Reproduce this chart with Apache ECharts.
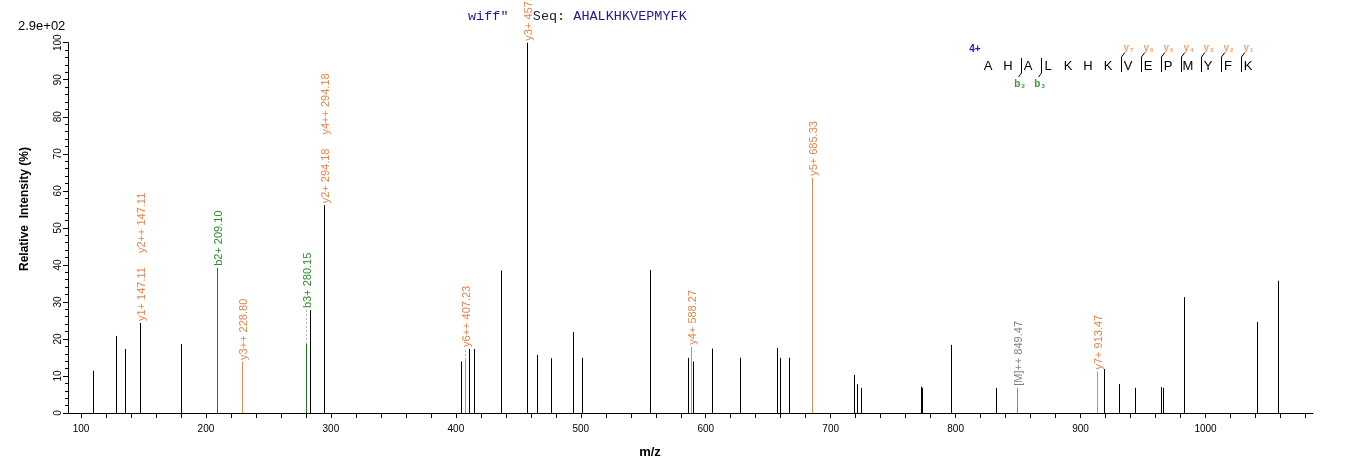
<!DOCTYPE html>
<html>
<head>
<meta charset="utf-8">
<script src="https://cdn.jsdelivr.net/npm/echarts@6/dist/echarts.min.js"></script>
<style>
html, body { margin: 0; padding: 0; background: #fff; }
#main { width: 1362px; height: 473px; }
</style>
</head>
<body>
<div id="main"></div>
<script>
// peaks: m/z and relative intensity (%)
const peakMz = [109.8, 128.3, 135.5, 147.11, 180.3, 209.10, 228.80, 280.15, 282.9, 294.18,
  404.4, 407.23, 410.3, 414.8, 436.4, 457.27, 465.2, 476.4, 493.8, 501.2,
  555.7, 586.1, 588.27, 589.6, 605.3, 627.7, 657.3, 659.7, 666.9, 685.33,
  719.0, 721.4, 724.5, 772.6, 773.4, 796.6, 832.6, 849.47, 913.47, 919.0,
  931.0, 943.8, 964.7, 966.2, 983.1, 1041.5, 1058.3];
const peakInt = [11.4, 20.8, 17.3, 24.3, 18.6, 39.2, 13.8, 18.6, 27.8, 56.1,
  13.9, 14.3, 17.3, 17.3, 38.5, 100, 15.7, 14.8, 21.9, 14.9,
  38.6, 14.9, 17.9, 13.9, 17.4, 14.9, 17.6, 14.9, 14.9, 63.5,
  10.3, 7.8, 6.8, 7.1, 6.8, 18.4, 6.8, 6.8, 11.2, 11.9,
  7.8, 6.8, 7.0, 6.8, 31.3, 24.6, 35.7];

// annotated fragment ions
const annMz = [147.11, 147.11, 209.10, 228.80, 280.15, 294.18, 294.18, 407.23, 457.27, 588.27, 685.33, 849.47, 913.47];
const annText = ['y1+ 147.11', 'y2++ 147.11', 'b2+ 209.10', 'y3++ 228.80', 'b3+ 280.15', 'y2+ 294.18', 'y4++ 294.18',
  'y6++ 407.23', 'y3+ 457.27', 'y4+ 588.27', 'y5+ 685.33', '[M]++ 849.47', 'y7+ 913.47'];
const annIon = ['y', 'y', 'b', 'y', 'b', 'y', 'y', 'y', 'y', 'y', 'y', 'M', 'y'];
// labelled peaks whose stick is still drawn black
const plainMz = [147.11, 294.18, 457.27];

const xLabels = [100, 200, 300, 400, 500, 600, 700, 800, 900, 1000];
const xTicks = [100, 120, 140, 160, 180, 200, 220, 240, 260, 280, 300, 320, 340, 360, 380, 400, 420, 440, 460, 480,
  500, 520, 540, 560, 580, 600, 620, 640, 660, 680, 700, 720, 740, 760, 780, 800, 820, 840, 860, 880,
  900, 920, 940, 960, 980, 1000, 1020, 1040, 1060, 1080];

const sequence = 'AHALKHKVEPMYFK';
const charge = '4+';
const bIons = [2, 3];
const yIons = [7, 6, 5, 4, 3, 2, 1];

const textColor = { b: '#2e8b2e', y: '#e4844a', M: '#808080' };
const lineColor = { b: '#1f7a1f', y: '#e08a55', M: '#8a8a8a' };

const labelFont = '11px Arial';
const measure = document.createElement('canvas').getContext('2d');
measure.font = labelFont;

function stickColor(m) {
  const k = annMz.indexOf(m);
  if (k < 0 || plainMz.indexOf(m) >= 0) return '#000';
  return lineColor[annIon[k]];
}

// one label group per annotated peak, lifted above close neighbours
const groupMz = annMz.filter((m, i) => annMz.indexOf(m) === i);
const groupData = groupMz.map(m => {
  let base = 0;
  peakMz.forEach((p, i) => { if (Math.abs(p - m) <= 4) base = Math.max(base, peakInt[i]); });
  return [m, base];
});

const chart = echarts.init(document.getElementById('main'));

const graphics = [
  { type: 'text', x: 18, y: 26, style: { text: '2.9e+02', font: '13px Arial', fill: '#000', verticalAlign: 'middle' } },
  { type: 'text', x: 25, y: 209, rotation: Math.PI / 2,
    style: { text: 'Relative  Intensity (%)', font: 'bold 12px Arial', fill: '#000', align: 'center', verticalAlign: 'middle' } },
  { type: 'text', x: 650, y: 452, style: { text: 'm/z', font: 'bold 13px Arial', fill: '#000', align: 'center', verticalAlign: 'middle' } },
  { type: 'text', x: 468, y: 16,
    style: {
      text: '{a|wiff"\u00a0\u00a0\u00a0}{b|Seq:\u00a0}{a|' + sequence + '}',
      verticalAlign: 'middle',
      rich: {
        a: { font: '13.5px "Liberation Mono"', fill: '#1c1c8c' },
        b: { font: '13.5px "Liberation Mono"', fill: '#222' }
      }
    } },
  { type: 'text', x: 975, y: 49, style: { text: charge, font: 'bold 10px Arial', fill: '#2020c0', align: 'center', verticalAlign: 'middle' } }
];

const seqX0 = 988, seqStep = 20, seqY = 66;
sequence.split('').forEach((c, i) => {
  graphics.push({ type: 'text', x: seqX0 + i * seqStep, y: seqY,
    style: { text: c, font: '13px Arial', fill: '#000', align: 'center', verticalAlign: 'middle' } });
});
function ionTag(letter, n, color) {
  return {
    text: '{a|' + letter + '}{s|' + n + '}',
    align: 'center',
    verticalAlign: 'middle',
    rich: {
      a: { font: 'bold 10px Arial', fill: color },
      s: { font: 'bold 6px Arial', fill: color, padding: [4, 0, 0, 1] }
    }
  };
}
bIons.forEach(n => {
  const x = seqX0 + n * seqStep - 6.5;
  graphics.push({ type: 'polyline', shape: { points: [[x, 58], [x, 73], [x - 3, 77]] }, style: { stroke: '#000', lineWidth: 1, fill: null } });
  graphics.push({ type: 'text', x: x - 2, y: 84, style: ionTag('b', n, '#3a9a3a') });
});
yIons.forEach(n => {
  const x = seqX0 + (sequence.length - n) * seqStep - 6.5;
  graphics.push({ type: 'polyline', shape: { points: [[x + 3, 53], [x, 57], [x, 72]] }, style: { stroke: '#000', lineWidth: 1, fill: null } });
  graphics.push({ type: 'text', x: x + 7, y: 48, style: ionTag('y', n, '#f0a070') });
});

const option = {
  animation: false,
  backgroundColor: '#fff',
  grid: { left: 68, right: 49, top: 42.7, bottom: 60, containLabel: false, outerBoundsMode: 'none' },
  xAxis: {
    type: 'value',
    min: 89.6,
    max: 1086,
    axisLine: { lineStyle: { color: '#000', width: 1 } },
    axisTick: { show: true, length: 5, customValues: xTicks, lineStyle: { color: '#000' } },
    axisLabel: { customValues: xLabels, fontSize: 10, fontFamily: 'Arial', color: '#000', margin: 11,
      formatter: v => String(v) },
    splitLine: { show: false }
  },
  yAxis: {
    type: 'value',
    min: 0,
    max: 100,
    interval: 10,
    axisLine: { show: true, lineStyle: { color: '#000', width: 1 } },
    axisTick: { show: true, length: 5, lineStyle: { color: '#000' } },
    minorTick: { show: true, splitNumber: 5, length: 3, lineStyle: { color: '#000' } },
    axisLabel: { rotate: 90, fontSize: 10, fontFamily: 'Arial', color: '#000', margin: 5 },
    splitLine: { show: false }
  },
  graphic: graphics,
  series: [
    {
      type: 'custom',
      data: peakMz.map((m, i) => [m, peakInt[i]]),
      renderItem: (params, api) => {
        const m = api.value(0);
        const p0 = api.coord([m, 0]);
        const p1 = api.coord([m, api.value(1)]);
        const x = Math.round(p0[0]) + 0.5;
        return { type: 'line', shape: { x1: x, y1: p0[1], x2: x, y2: p1[1] }, style: { stroke: stickColor(m), lineWidth: 1 } };
      }
    },
    {
      type: 'custom',
      data: groupData,
      renderItem: (params, api) => {
        const m = api.value(0);
        const base = api.value(1);
        const k = peakMz.indexOf(m);
        const pTop = api.coord([m, peakInt[k]]);
        const pBase = api.coord([m, base]);
        const x = Math.round(pTop[0]) + 0.5;
        const children = [];
        if (pBase[1] < pTop[1] - 1) {
          children.push({ type: 'line', shape: { x1: x, y1: pTop[1], x2: x, y2: pBase[1] },
            style: { stroke: '#b0b0b0', lineWidth: 1, lineDash: [2, 2] } });
        }
        let y = pBase[1] - 2;
        annMz.forEach((a, i) => {
          if (a !== m) return;
          children.push({ type: 'text', x: x + 1, y: y, rotation: Math.PI / 2,
            style: { text: annText[i], font: labelFont, fill: textColor[annIon[i]], align: 'left', verticalAlign: 'middle' } });
          y -= measure.measureText(annText[i]).width + 14;
        });
        return { type: 'group', children: children };
      }
    }
  ]
};

chart.setOption(option);
</script>
</body>
</html>
